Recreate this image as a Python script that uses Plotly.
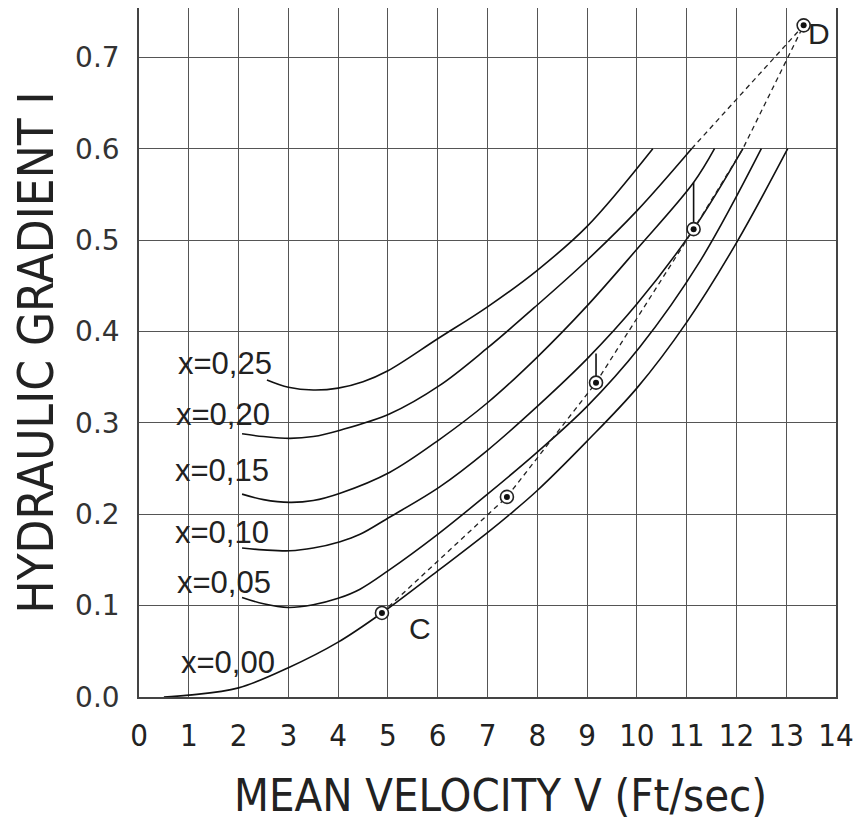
import plotly.graph_objects as go

# ---- data ----
v_000 = [0.5, 1.0, 2.0, 3.0, 4.0, 4.88, 6.0, 7.0, 7.45, 8.0, 9.0, 10.0, 11.0, 12.0, 13.03]
i_000 = [0.0, 0.002, 0.01, 0.032, 0.06, 0.092, 0.138, 0.18, 0.2, 0.226, 0.28, 0.338, 0.41, 0.497, 0.6]

v_005 = [2.07, 2.5, 3.0, 3.5, 4.0, 4.44, 5.0, 6.0, 7.0, 8.0, 9.0, 10.06, 11.27, 12.5]
i_005 = [0.109, 0.102, 0.098, 0.101, 0.108, 0.118, 0.138, 0.178, 0.222, 0.268, 0.318, 0.383, 0.477, 0.6]

v_010 = [2.07, 2.5, 3.03, 3.5, 4.04, 4.44, 5.04, 6.04, 7.0, 8.0, 9.0, 10.0, 11.14, 12.13]
i_010 = [0.163, 0.161, 0.16, 0.163, 0.17, 0.178, 0.197, 0.23, 0.27, 0.318, 0.37, 0.43, 0.512, 0.6]

v_015 = [2.07, 2.5, 3.03, 3.5, 4.04, 5.04, 6.04, 7.0, 8.0, 9.0, 10.0, 11.14, 11.56]
i_015 = [0.222, 0.216, 0.213, 0.215, 0.223, 0.246, 0.282, 0.322, 0.372, 0.428, 0.49, 0.563, 0.6]

v_020 = [2.07, 2.5, 3.03, 3.5, 4.04, 5.04, 6.04, 7.0, 8.0, 9.0, 10.0, 11.1]
i_020 = [0.288, 0.285, 0.283, 0.285, 0.292, 0.31, 0.341, 0.382, 0.429, 0.478, 0.532, 0.6]

v_025 = [2.57, 3.0, 3.5, 4.0, 4.5, 5.0, 6.0, 7.0, 8.0, 9.0, 10.32]
i_025 = [0.347, 0.339, 0.336, 0.338, 0.345, 0.357, 0.392, 0.427, 0.467, 0.515, 0.6]

curve_v = [v_000, v_005, v_010, v_015, v_020, v_025]
curve_i = [i_000, i_005, i_010, i_015, i_020, i_025]
curve_labels = ["x=0,00", "x=0,05", "x=0,10", "x=0,15", "x=0,20", "x=0,25"]
label_v = [1.78, 1.70, 1.67, 1.67, 1.69, 1.73]
label_i = [0.038, 0.125, 0.180, 0.248, 0.309, 0.365]

# operating points C ... D
pts_v = [4.88, 7.39, 9.18, 11.14, 13.35]
pts_i = [0.092, 0.219, 0.344, 0.512, 0.735]
pt_names = ["C", "", "", "", "D"]

# dashed connecting lines
dash1_v = [4.88, 7.39, 9.18, 11.14, 12.13, 13.35]
dash1_i = [0.092, 0.219, 0.344, 0.512, 0.6, 0.735]
dash2_v = [11.1, 13.35]
dash2_i = [0.6, 0.735]

# vertical ticks from points up to next curve
vert_v = [[9.18, 9.18], [11.14, 11.14]]
vert_i = [[0.344, 0.376], [0.512, 0.563]]

x_ticks = list(range(0, 15))
y_ticks = [0.0, 0.1, 0.2, 0.3, 0.4, 0.5, 0.6, 0.7]
y_ticktext = ["0.0", "0.1", "0.2", "0.3", "0.4", "0.5", "0.6", "0.7"]

NARROW = "Liberation Sans Narrow, DejaVu Sans Condensed, Arial Narrow, sans-serif"
SANS = "Liberation Sans, Arial, sans-serif"
WIDE = "DejaVu Sans, Verdana, sans-serif"

fig = go.Figure()

for vv, ii in zip(curve_v, curve_i):
    fig.add_trace(go.Scatter(x=vv, y=ii, mode="lines",
                             line=dict(color="#111111", width=1.6, shape="spline", smoothing=1.0),
                             hoverinfo="skip", showlegend=False))

fig.add_trace(go.Scatter(x=dash1_v, y=dash1_i, mode="lines",
                         line=dict(color="#222222", width=1.3, dash="5px,4px"),
                         showlegend=False))
fig.add_trace(go.Scatter(x=dash2_v, y=dash2_i, mode="lines",
                         line=dict(color="#222222", width=1.3, dash="5px,4px"),
                         showlegend=False))

for vv, ii in zip(vert_v, vert_i):
    fig.add_trace(go.Scatter(x=vv, y=ii, mode="lines",
                             line=dict(color="#111111", width=1.6), showlegend=False))

fig.add_trace(go.Scatter(x=pts_v, y=pts_i, mode="markers",
                         marker=dict(symbol="circle", size=13, color="white",
                                     line=dict(color="#222222", width=1.6)),
                         showlegend=False))
fig.add_trace(go.Scatter(x=pts_v, y=pts_i, mode="markers",
                         marker=dict(symbol="circle", size=6, color="#111111"),
                         showlegend=False))

annotations = []
for t, lv, li in zip(curve_labels, label_v, label_i):
    annotations.append(dict(x=lv, y=li, text=t, showarrow=False,
                            font=dict(family=SANS, size=31, color="#222222"),
                            xanchor="center", yanchor="middle"))
annotations.append(dict(x=pts_v[0], y=pts_i[0], text=pt_names[0], showarrow=False,
                        xshift=38, yshift=-16,
                        font=dict(family=SANS, size=30, color="#222222")))
annotations.append(dict(x=pts_v[4], y=pts_i[4], text=pt_names[4], showarrow=False,
                        xshift=15, yshift=-8,
                        font=dict(family=SANS, size=30, color="#222222")))
annotations.append(dict(x=0.5, y=0, xref="paper", yref="paper", yshift=-98, xshift=13,
                        text="MEAN VELOCITY V (Ft/sec)", showarrow=False,
                        xanchor="center", yanchor="middle",
                        font=dict(family=NARROW, size=45, color="#222222")))
annotations.append(dict(x=0, y=0.5, xref="paper", yref="paper", xshift=-103,
                        text="HYDRAULIC GRADIENT I", showarrow=False, textangle=-90,
                        xanchor="center", yanchor="middle",
                        font=dict(family=NARROW, size=49, color="#222222")))

# page body has an 8px margin, so the figure is offset by (8, 8)
fig.update_layout(
    width=858, height=815,
    margin=dict(l=131, r=30, t=0, b=126, autoexpand=False),
    plot_bgcolor="white", paper_bgcolor="white",
    showlegend=False,
    annotations=annotations,
    xaxis=dict(range=[0, 14], tickmode="array", tickvals=x_ticks,
               ticktext=[str(t) for t in x_ticks],
               showgrid=True, gridcolor="#555555", gridwidth=1.4,
               showline=True, linecolor="#444444", linewidth=1.5, mirror=True,
               zeroline=False, ticks="", ticklabelstandoff=10,
               tickfont=dict(family=NARROW, size=31, color="#222222")),
    yaxis=dict(range=[0, 0.754], tickmode="array", tickvals=y_ticks,
               ticktext=y_ticktext,
               showgrid=True, gridcolor="#555555", gridwidth=1.4,
               showline=True, linecolor="#444444", linewidth=1.5, mirror=True,
               zeroline=False, ticks="", ticklabelstandoff=12,
               tickfont=dict(family=WIDE, size=28, color="#333333")),
)

fig.write_html("out.html")
